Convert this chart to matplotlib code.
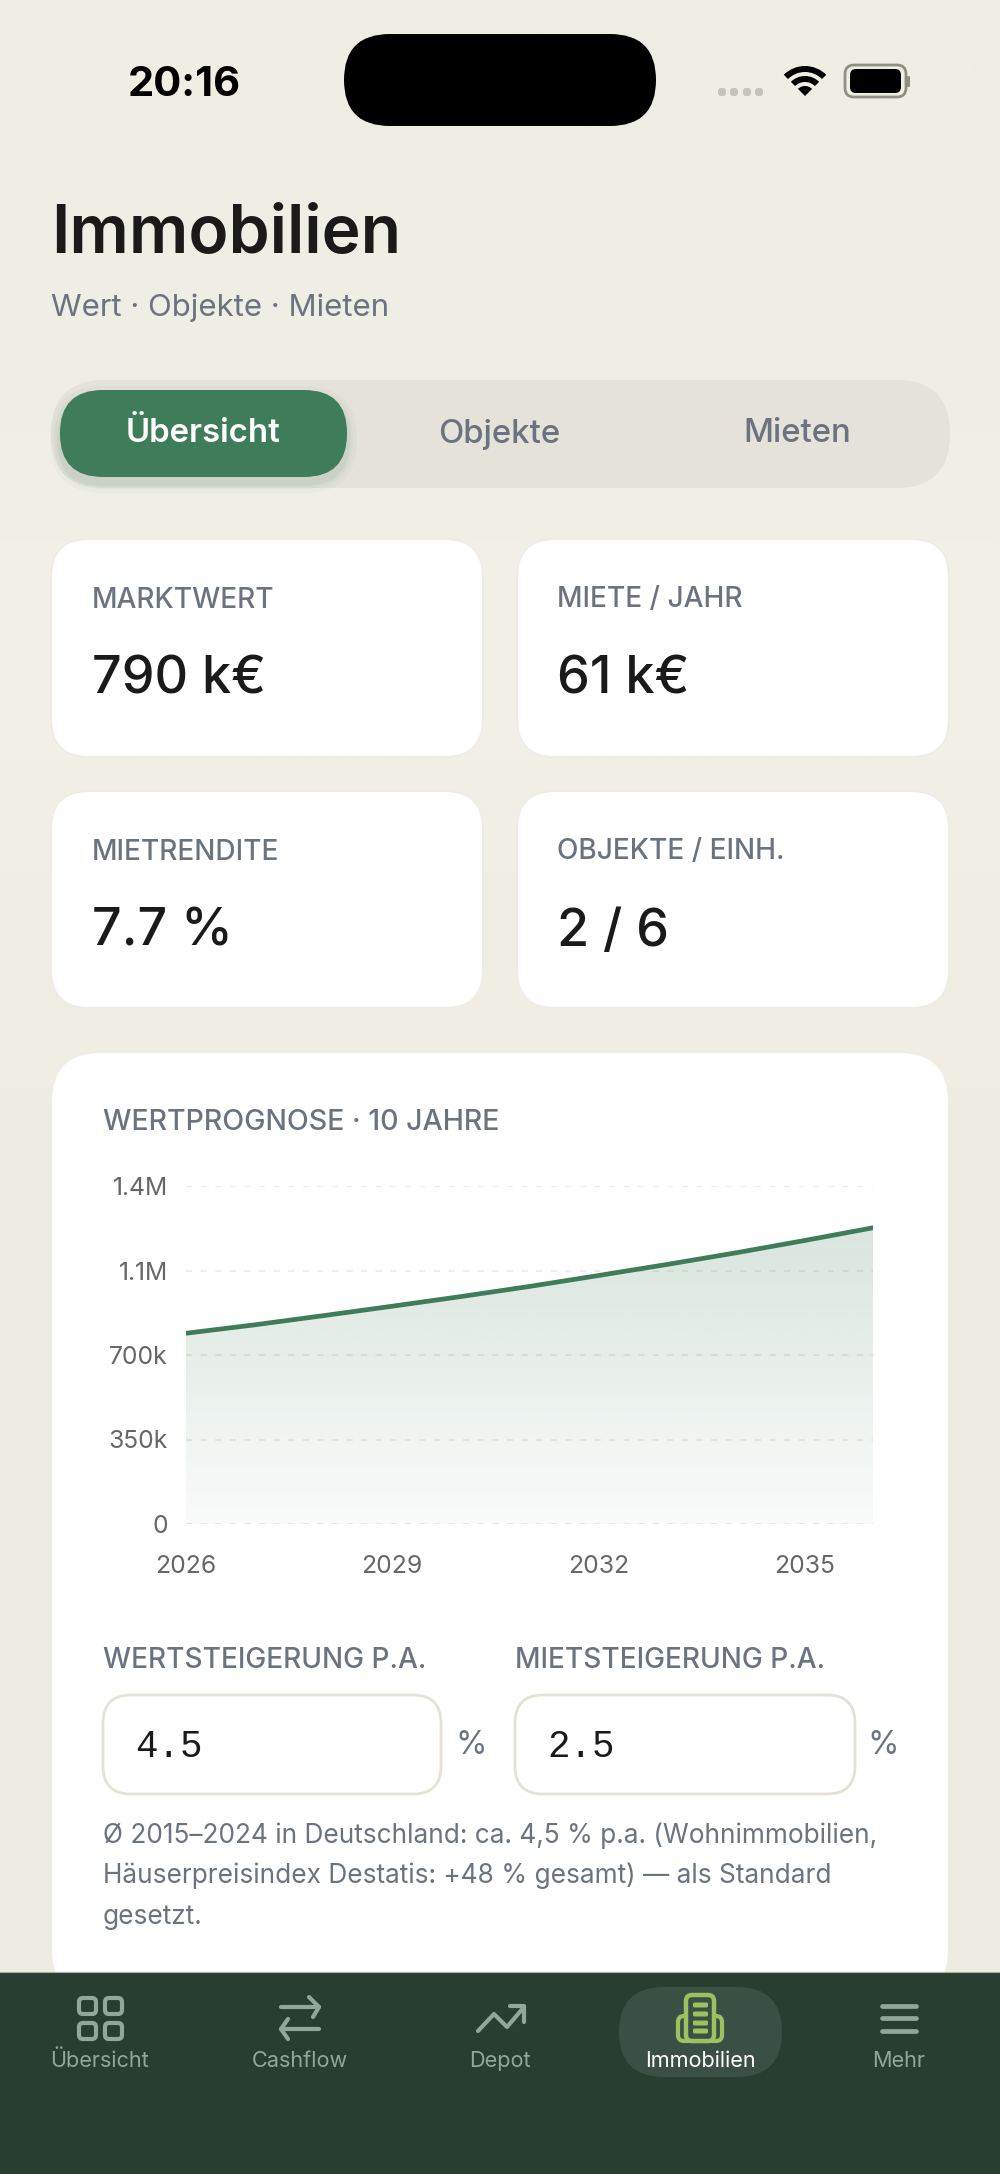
import numpy as np
import matplotlib
matplotlib.use('Agg')
import matplotlib.pyplot as plt
from matplotlib.patches import FancyBboxPatch, Circle, Wedge, Polygon

# chart data
years = [2026, 2027, 2028, 2029, 2030, 2031, 2032, 2033, 2034, 2035, 2036]
values = [790000, 825000, 863000, 902000, 942000, 984000, 1029000, 1075000, 1123000, 1174000, 1227000]
y_ticks = [0, 350000, 700000, 1050000, 1400000]
y_labels = ['0', '350k', '700k', '1.1M', '1.4M']
x_ticks = [2026, 2029, 2032, 2035]

# texts
tabs = ['Übersicht', 'Objekte', 'Mieten']
card_labels = ['MARKTWERT', 'MIETE / JAHR', 'MIETRENDITE', 'OBJEKTE / EINH.']
card_values = ['790 k€', '61 k€', '7.7 %', '2 / 6']
input_labels = ['WERTSTEIGERUNG P.A.', 'MIETSTEIGERUNG P.A.']
input_values = ['4.5', '2.5']
note_lines = ['Ø 2015–2024 in Deutschland: ca. 4,5 % p.a. (Wohnimmobilien,',
              'Häuserpreisindex Destatis: +48 % gesamt) — als Standard',
              'gesetzt.']
nav_labels = ['Übersicht', 'Cashflow', 'Depot', 'Immobilien', 'Mehr']

GREEN = '#3f7c59'
GREY = '#6b7280'
DARK = '#1a1a1a'
NAV = '#273e30'
NAVTXT = '#93a69a'

plt.rcParams['font.family'] = ['Inter', 'DejaVu Sans']

fig = plt.figure(figsize=(10, 21.74), dpi=100)
ui = fig.add_axes([0, 0, 1, 1])
ui.set_xlim(0, 1000)
ui.set_ylim(2174, 0)
ui.axis('off')

# background
bg = np.array([[238, 238, 228], [242, 240, 231], [240, 238, 227], [238, 236, 224], [238, 236, 224]]) / 255
ui.imshow(bg.reshape(5, 1, 3), extent=[0, 1000, 2174, 0], aspect='auto', interpolation='bilinear', zorder=0)


def box(x0, y0, x1, y1, r, fc, ec='none', lw=0, z=2, alpha=None):
    p = FancyBboxPatch((x0, y0), x1 - x0, y1 - y0, boxstyle=f'round,pad=0,rounding_size={r}',
                       fc=fc, ec=ec, lw=lw, zorder=z, alpha=alpha)
    ui.add_patch(p)
    return p


def label(x, y, s, size, color=DARK, weight='normal', ha='left', va='center', **kw):
    return ui.text(x, y, s, fontsize=size, color=color, fontweight=weight, ha=ha, va=va, zorder=6, **kw)


def stroke(xs, ys, color, lw=3.0, z=5):
    ui.plot(xs, ys, color=color, lw=lw, solid_capstyle='round', solid_joinstyle='round', zorder=z)


# status bar
label(184, 85, '20:16', 30, '#000000', 'bold', ha='center')
box(344, 34, 656, 126, 46, '#000000')
for x in [722, 734, 747, 759]:
    box(x - 4, 88, x + 4, 96, 3, '#c4c4bc')
ui.add_patch(Wedge((805, 96), 30, 225, 315, width=6, fc='#000000', zorder=5))
ui.add_patch(Wedge((805, 96), 20, 225, 315, width=6, fc='#000000', zorder=5))
ui.add_patch(Wedge((805, 96), 10, 225, 315, fc='#000000', zorder=5))
box(845, 65, 906, 97, 9, 'none', ec='#8f8f86', lw=2)
box(850, 69, 901, 93, 6, '#000000')
box(907, 76, 910, 87, 1, '#8f8f86')

# title
label(51, 235, 'Immobilien', 47.5, DARK, 'semibold')
label(51, 308, 'Wert · Objekte · Mieten', 22.4, GREY)

# tabs
box(51, 380, 950, 488, 54, '#e5e2da')
for grow, a in [(10, 0.03), (6, 0.05), (3, 0.07)]:
    box(60 - grow, 396 - grow, 347 + grow, 483 + grow, 43 + grow, GREEN, alpha=a, z=2)
box(60, 390, 347, 477, 43, GREEN, z=3)
for x, s, c, w in zip([203, 499, 797], tabs, ['white', GREY, GREY], ['semibold', 'medium', 'medium']):
    label(x, 434, s, 23.7, c, w, ha='center')

# small cards
col_x = [(51, 483), (517, 949)]
text_x = [92, 557]
row_y = [(539, 757), (791, 1008)]
i = 0
for y0, y1 in row_y:
    for (x0, x1), tx in zip(col_x, text_x):
        box(x0, y0, x1, y1, 38, 'white', ec='#eeede5', lw=1.5)
        label(tx, y0 + 61, card_labels[i], 20.2, GREY, 'medium')
        label(tx, y0 + 141, card_values[i], 37.5, DARK, 'medium')
        i += 1

# big card
box(51, 1052, 949, 2000, 50, 'white', ec='#eeede5', lw=1.5)
label(103, 1123, 'WERTPROGNOSE · 10 JAHRE', 20.5, GREY, 'medium')

# chart
ax = fig.add_axes([186 / 1000, 1 - 1524 / 2174, (873 - 186) / 1000, (1524 - 1186) / 2174], zorder=3)
ax.patch.set_alpha(0)
ax.set_xlim(2026, 2036)
ax.set_ylim(0, 1400000)
for s in ax.spines.values():
    s.set_visible(False)
ax.set_yticks(y_ticks, y_labels)
ax.set_xticks(x_ticks, [str(x) for x in x_ticks])
ax.tick_params(length=0, labelsize=17.8, labelcolor='#666666')
ax.tick_params(axis='y', pad=13)
ax.tick_params(axis='x', pad=22)
ax.grid(axis='y', color='#eeede6', lw=1.5, dashes=(3, 4))
ax.set_axisbelow(True)
grad = np.ones((100, 1, 4))
grad[:, 0, :3] = matplotlib.colors.to_rgb(GREEN)
grad[:, 0, 3] = np.linspace(0.2, 0.03, 100)
fill = ax.fill_between(years, values, 0, color='none', lw=0)
img = ax.imshow(grad, extent=[2026, 2036, 0, 1227000], aspect='auto', zorder=2)
img.set_clip_path(fill.get_paths()[0], transform=ax.transData)
ax.set_xlim(2026, 2036)
ax.set_ylim(0, 1400000)
ax.plot(years, values, color=GREEN, lw=3.4, zorder=4, clip_on=True)

# inputs
for (x0, x1), s, t, px in zip([(103, 441), (515, 855)], input_labels, input_values, [471, 883]):
    label(x0, 1660, s, 20.2, GREY, 'medium')
    box(x0, 1695, x1, 1794, 28, 'white', ec='#e5e2d5', lw=2.0)
    label(x0 + 32, 1747, t, 27, DARK, family='Liberation Mono')
    label(px, 1746, '%', 23, GREY, ha='center')

for y, s in zip([1836, 1876, 1917], note_lines):
    label(103, y, s, 18.9, GREY)

# nav bar
ui.fill_between([0, 1000], 1972, 2174, color=NAV, zorder=4, lw=0)
ui.plot([0, 1000], [1972, 1972], color='#a3b3aa', lw=0.8, zorder=5)
box(619, 1987, 782, 2077, 45, '#3a5045', z=5)
for x, s, c in zip([100, 300, 500, 700, 899], nav_labels, [NAVTXT, NAVTXT, NAVTXT, 'white', NAVTXT]):
    label(x, 2061, s, 15.6, c, ha='center')

IC = '#93a69a'
# overview icon
for x0, x1 in [(79, 96), (105, 122)]:
    for y0, y1 in [(1998, 2014), (2023, 2039)]:
        box(x0, y0, x1, y1, 4, 'none', ec=IC, lw=3.0, z=5)
# cashflow icon
stroke([281, 319], [2007, 2007], IC)
stroke([309, 319, 313], [1997, 2007, 2017], IC)
stroke([281, 319], [2029, 2029], IC)
stroke([288, 281, 288], [2019, 2029, 2039], IC)
# depot icon
stroke([478, 494, 507, 524], [2031, 2014, 2027, 2007], IC)
stroke([510, 524, 524], [2006, 2006, 2022], IC)
# property icon
LIME = '#9cc25f'
box(678, 2016, 722, 2041, 6, 'none', ec=LIME, lw=3.0, z=6)
box(686, 1995, 714, 2041, 6, '#3a5045', ec=LIME, lw=3.2, z=6)
for y in [2005, 2014, 2023, 2031]:
    box(693, y - 2.5, 708, y + 2.5, 1.5, LIME, z=7)
# more icon
for y in [2006, 2018, 2031]:
    stroke([882, 916], [y, y], IC, lw=3.4)

fig.savefig('out.png', dpi=100)
